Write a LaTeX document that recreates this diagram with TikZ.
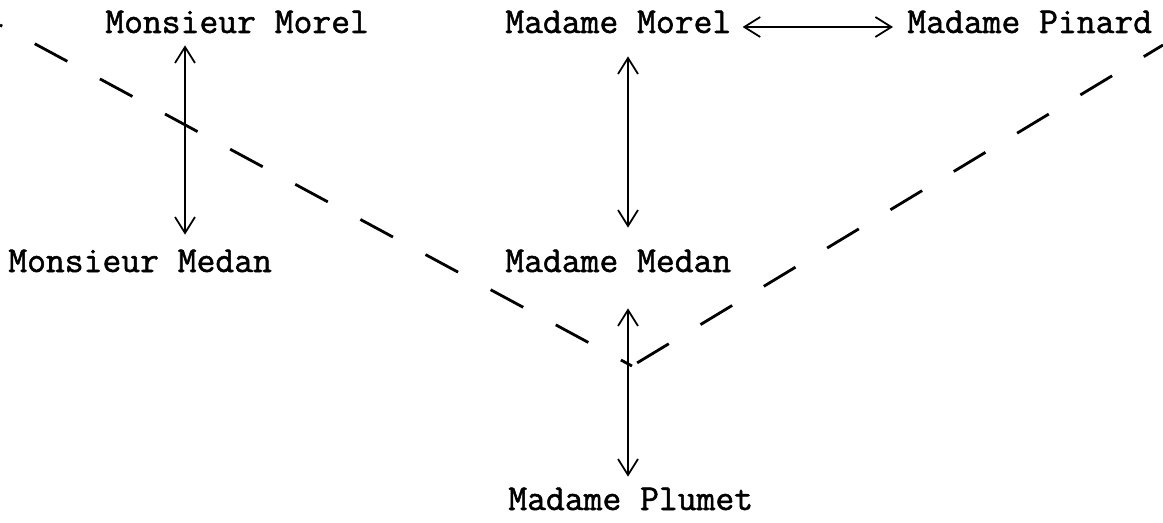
\documentclass[tikz,border=0pt]{standalone}
\usepackage{fontspec}
\newfontfamily\typefont{Latin Modern Mono}[FakeBold=1.4]
\usetikzlibrary{arrows.meta}
\begin{document}
\begin{tikzpicture}[
    person/.style={font=\typefont\fontsize{20.8}{24}\selectfont, inner sep=0pt,
      text height=0.4cm, text depth=0pt, anchor=base west},
    link/.style={{Straight Barb[length=3.2mm,width=4mm]}-{Straight Barb[length=3.2mm,width=4mm]}, line width=1pt},
    split/.style={line width=1.6pt, dash pattern=on 0.74cm off 0.74cm}]
  \useasboundingbox (0,0) rectangle (23.26,10.44);
  \draw
    (2.10,9.78) node[person] (MonMorel){Monsieur Morel}
    (10.10,9.78) node[person] (MmeMorel){Madame Morel}
    (18.14,9.78) node[person] (MmePinard){Madame Pinard}
    (0.16,5.00) node[person] (MonMedan){Monsieur Medan}
    (10.10,5.00) node[person] (MmeMedan){Madame Medan}
    (10.16,0.24) node[person] (MmePlumet){Madame Plumet};
  \coordinate (tl) at (0,9.94);
  \coordinate (vtx) at (12.64,3.12);
  \coordinate (tr) at (23.26,9.54);
  \draw[split, dash phase=0.69cm] (tl) -- (vtx);
  \draw[split, dash phase=1.36cm] (vtx) -- (tr);
  \begin{scope}[link]
    \draw ([xshift=1.6cm,yshift=-0.24cm]MonMorel.south west) to ([xshift=3.54cm,yshift=0.34cm]MonMedan.north west);
    \draw ([xshift=2.46cm,yshift=-0.46cm]MmeMorel.south west) to ([xshift=2.46cm,yshift=0.48cm]MmeMedan.north west);
    \draw ([xshift=2.46cm,yshift=-0.72cm]MmeMedan.south west) to ([xshift=2.40cm,yshift=0.26cm]MmePlumet.north west);
    \draw ([xshift=0.22cm,yshift=-0.08cm]MmeMorel.east) to ([xshift=-0.28cm,yshift=-0.08cm]MmePinard.west);
  \end{scope}
\end{tikzpicture}
\end{document}
